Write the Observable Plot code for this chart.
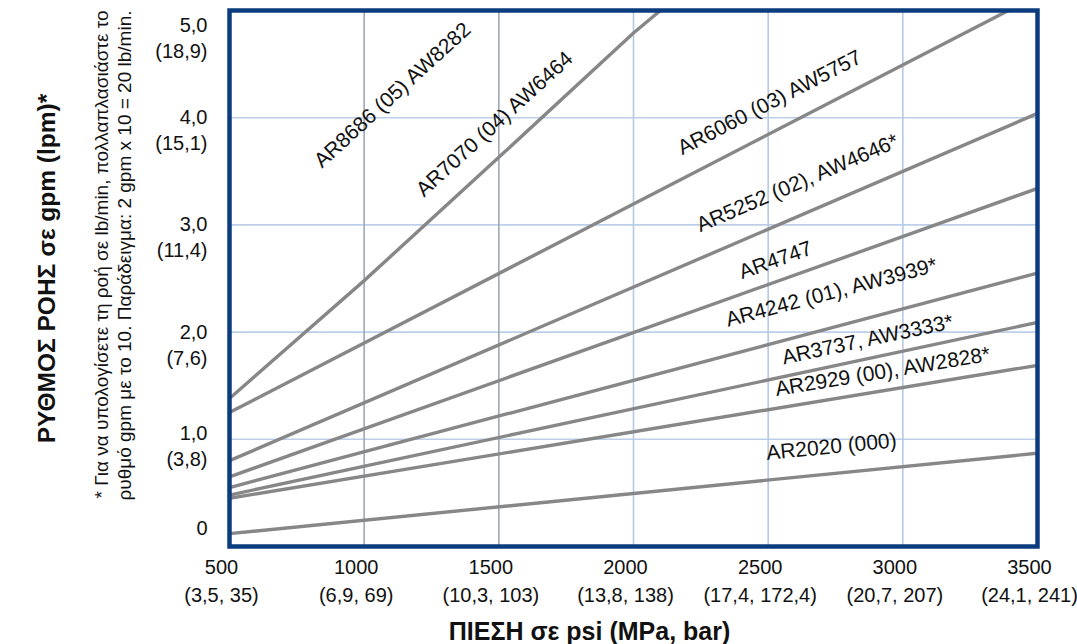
<!DOCTYPE html>
<html>
<head>
<meta charset="utf-8">
<script src="https://cdn.jsdelivr.net/npm/d3@7"></script>
<script src="https://cdn.jsdelivr.net/npm/@observablehq/plot@0.6"></script>
<style>
  html, body { margin: 0; padding: 0; background: #fff; }
  #chart svg { display: block; }
</style>
</head>
<body>
<div id="chart"></div>
<script>
// ---- data ----
const psiTicks = [500, 1000, 1500, 2000, 2500, 3000, 3500];
const psiTickLabels = ["500\n(3,5, 35)", "1000\n(6,9, 69)", "1500\n(10,3, 103)", "2000\n(13,8, 138)", "2500\n(17,4, 172,4)", "3000\n(20,7, 207)", "3500\n(24,1, 241)"];
const gpmTicks = [0, 1, 2, 3, 4, 5];
const gpmTickLabels = ["0", "1,0\n(3,8)", "2,0\n(7,6)", "3,0\n(11,4)", "4,0\n(15,1)", "5,0\n(18,9)"];

const lineNames = ["AR2020", "AR2929", "AR3737", "AR4242", "AR4747", "AR5252", "AR6060", "AR7070"];
const linePsi = [
  [500, 3500], [500, 3500], [500, 3500], [500, 3500], [500, 3500], [500, 3500],
  [500, 3392], [500, 1000, 1500, 2000, 2100]
];
const lineGpm = [
  [0.12, 0.87], [0.45, 1.69], [0.48, 2.09], [0.55, 2.55], [0.65, 3.34], [0.80, 4.04],
  [1.25, 5.0], [1.38, 2.48, 3.63, 4.79, 5.0]
];

const labelTexts = ["AR8686 (05) AW8282", "AR7070 (04) AW6464", "AR6060 (03) AW5757", "AR5252 (02), AW4646*", "AR4747", "AR4242 (01), AW3939*", "AR3737, AW3333*", "AR2929 (00), AW2828*", "AR2020 (000)"];
const labelPsi = [1105, 1484, 2505, 2609, 2527, 2735, 2869, 2925, 2735];
const labelGpm = [4.21, 3.94, 4.14, 3.39, 2.67, 2.37, 1.93, 1.63, 0.93];
const labelAlong = ["AR7070", "AR7070", "AR6060", "AR5252", "AR4747", "AR4242", "AR3737", "AR2929", "AR2020"];

const xTitle = "ΠΙΕΣΗ σε psi (MPa, bar)";
const yTitle = "ΡΥΘΜΟΣ ΡΟΗΣ σε gpm (lpm)*";
const footnote = "* Για να υπολογίσετε τη ροή σε lb/min, πολλαπλασιάστε το\nρυθμό gpm με το 10. Παράδειγμα: 2 gpm x 10 = 20 lb/min.";

// ---- build tables ----
const lineRows = lineNames.flatMap((name, i) => linePsi[i].map((p, j) => ({name, psi: p, gpm: lineGpm[i][j]})));

const W = 1077, H = 644, ML = 229, MR = 40, MT = 10, MB = 98;
const xDomain = [500, 3500], yDomain = [0, 5];
const kx = (W - ML - MR) / (xDomain[1] - xDomain[0]);
const ky = (H - MT - MB) / (yDomain[1] - yDomain[0]);

function angleAt(name, psi) {
  const i = lineNames.indexOf(name);
  const xs = linePsi[i], ys = lineGpm[i];
  let j = 0;
  while (j < xs.length - 2 && psi > xs[j + 1]) j++;
  const slope = (ys[j + 1] - ys[j]) / (xs[j + 1] - xs[j]);
  return -Math.atan(slope * ky / kx) * 180 / Math.PI;
}
const labelRows = labelTexts.map((t, i) => ({text: t, psi: labelPsi[i], gpm: labelGpm[i], rot: angleAt(labelAlong[i], labelPsi[i])}));

const font = "'Liberation Sans', Arial, Helvetica, sans-serif";
const ink = "#111";
const yLabel = (vals, dy) => Plot.text(vals, {
  y: d => d, text: d => gpmTickLabels[gpmTicks.indexOf(d)],
  frameAnchor: "left", textAnchor: "end", lineAnchor: "top", dx: -22, dy,
  fontSize: 20, lineHeight: 1.3, fill: ink
});

const chart = Plot.plot({
  width: W, height: H,
  marginLeft: ML, marginRight: MR, marginTop: MT, marginBottom: MB,
  style: {fontFamily: font, background: "#fff"},
  x: {domain: xDomain, axis: null},
  y: {domain: yDomain, axis: null},
  marks: [
    Plot.ruleY([1, 2, 3, 4], {stroke: "#bccfe9", strokeWidth: 1.6}),
    Plot.ruleX([1000, 1500], {stroke: "#9ea8b8", strokeWidth: 1.6}),
    Plot.ruleX([2000, 2500, 3000], {stroke: "#b6c9e4", strokeWidth: 1.6}),
    Plot.line(lineRows, {x: "psi", y: "gpm", z: "name", stroke: "#878787", strokeWidth: 3.4, clip: true}),
    Plot.text(labelRows, {x: "psi", y: "gpm", text: "text", rotate: "rot", textAnchor: "middle", lineAnchor: "middle", fontSize: 21, fill: ink}),
    Plot.frame({stroke: "#0b3d7e", strokeWidth: 4.5}),
    // x tick labels
    Plot.text(psiTicks, {x: d => d, text: (d, i) => psiTickLabels[i], frameAnchor: "bottom", lineAnchor: "top", dy: 8, dx: -8, fontSize: 20, lineHeight: 1.4, fill: ink}),
    // y tick labels
    yLabel([2, 3, 4], -12),
    yLabel([5], 3),
    yLabel([1], -18),
    yLabel([0], -30),
    // titles
    Plot.text([xTitle], {frameAnchor: "bottom", text: d => d, lineAnchor: "middle", dy: 85, dx: -44, fontSize: 25, fontWeight: "bold", fill: ink}),
    Plot.text([yTitle], {frameAnchor: "left", text: d => d, rotate: -90, textAnchor: "middle", lineAnchor: "middle", dx: -182, dy: -10, fontSize: 24.5, fontWeight: "bold", fill: ink}),
    Plot.text([footnote], {frameAnchor: "top-left", text: d => d, rotate: -90, textAnchor: "end", lineAnchor: "middle", dx: -117.5, dy: 0, fontSize: 19, lineHeight: 1.21, fill: ink})
  ]
});
document.getElementById("chart").appendChild(chart);
</script>
</body>
</html>
